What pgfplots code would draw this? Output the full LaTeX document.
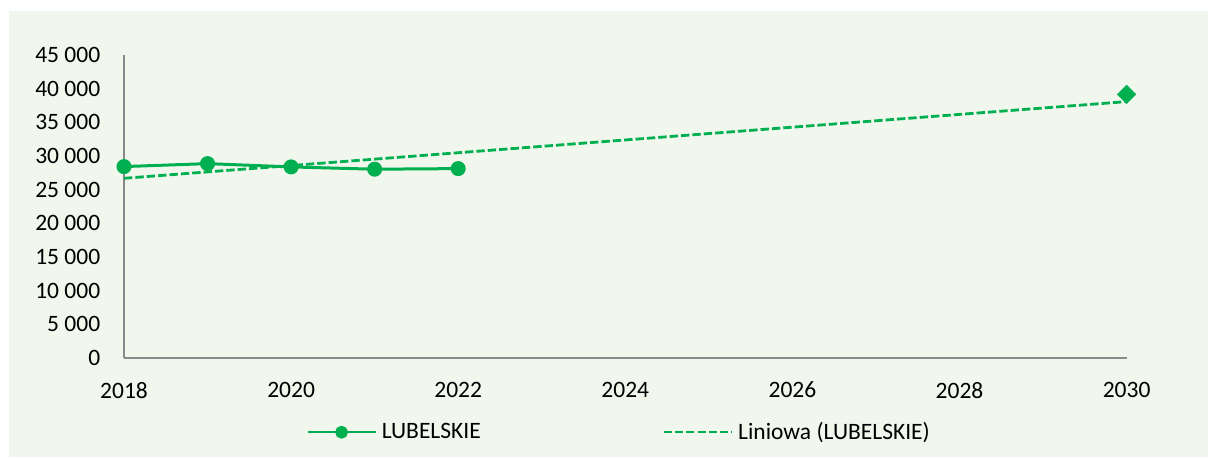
\documentclass[border=0pt]{standalone}
\usepackage{pgfplots}
\pgfplotsset{compat=1.18}
\usepackage{fontspec}
\setmainfont{Carlito}
\definecolor{panel}{RGB}{242,247,238}
\definecolor{lgreen}{RGB}{0,176,80}
\definecolor{axgray}{RGB}{137,137,137}
\newcommand{\fs}{\fontsize{11.75pt}{14pt}\selectfont}
\pgfplotsset{
  markline legend/.style={legend image code/.code={\draw[mark repeat=2,mark phase=2,##1, line width=1.2pt, mark size=2.6pt] plot coordinates {(0pt,0pt) (17pt,0pt) (34pt,0pt)};}},
  dashline legend/.style={legend image code/.code={\draw[##1, line width=1.2pt, dash pattern=on 4pt off 1.6pt] (0pt,0pt) -- (34pt,0pt);}},
}
\begin{document}
\begin{tikzpicture}
\path[use as bounding box] (0,0) rectangle (604pt,228.5pt);
\fill[panel] (4.5pt,0) rectangle (604pt,223pt);
\begin{axis}[
  at={(62pt,49.5pt)}, anchor=south west,
  scale only axis, width=501.3pt, height=151.5pt,
  xmin=2018, xmax=2030, ymin=0, ymax=45000,
  scaled y ticks=false, scaled x ticks=false,
  axis x line*=bottom, axis y line*=left,
  axis line style={draw=axgray, line width=0.7pt, -},
  major tick length=0pt,
  xtick={2018,2020,2022,2024,2026,2028,2030},
  xticklabels={2018,2020,2022,2024,2026,2028,2030},
  ytick={0,5000,10000,15000,20000,25000,30000,35000,40000,45000},
  yticklabels={0,5 000,10 000,15 000,20 000,25 000,30 000,35 000,40 000,45 000},
  every tick label/.append style={font=\fs, text=black, inner sep=0pt},
  yticklabel style={anchor=east, xshift=-11.7pt},
  xticklabel style={anchor=north, yshift=-11.8pt},
  clip=false,
  legend style={at={(rel axis cs:0.1815,-0.245)}, anchor=west, draw=none, fill=none,
    font=\fs, legend columns=2, inner sep=0pt,
    nodes={inner sep=1.3pt, inner xsep=2.5pt, text=black},
    /tikz/every even column/.append style={column sep=88.5pt}},
  legend cell align=left,
]
\addplot[lgreen, line width=1.5pt, mark=*, mark size=3pt, mark options={solid, fill=lgreen}, markline legend]
  coordinates {(2018,28430) (2019,28870) (2020,28380) (2021,28040) (2022,28130)};
\addlegendentry{LUBELSKIE}
\addplot[lgreen, line width=1.4pt, dash pattern=on 4.2pt off 1.5pt, dashline legend]
  coordinates {(2018,26690) (2030,38080)};
\addlegendentry{Liniowa (LUBELSKIE)}
\addplot[forget plot, only marks, mark=square*, mark size=3.2pt, lgreen, mark options={fill=lgreen, rotate=45}]
  coordinates {(2030,39170)};
\end{axis}
\end{tikzpicture}
\end{document}
